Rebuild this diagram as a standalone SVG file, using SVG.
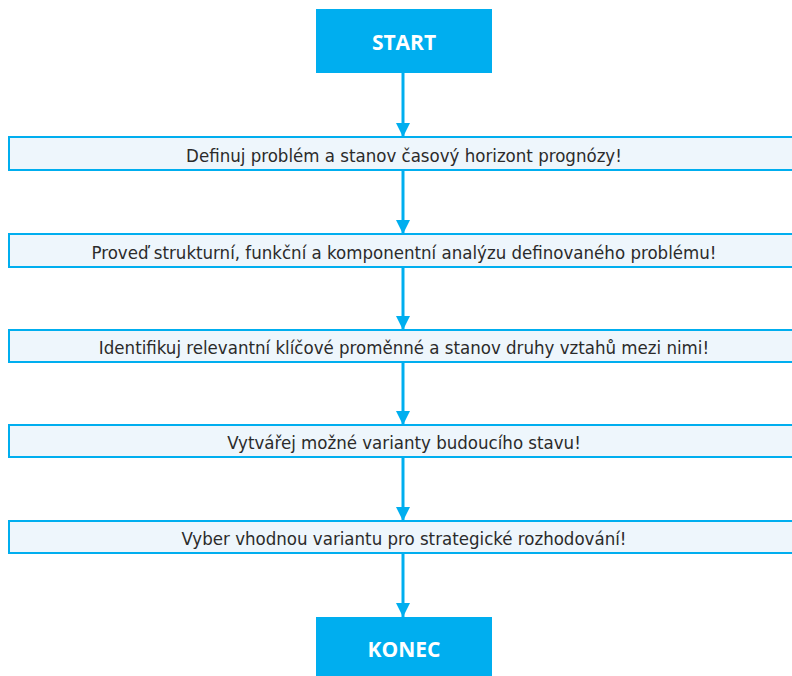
<svg xmlns="http://www.w3.org/2000/svg" width="792" height="676" viewBox="0 0 792 676">
<style>
.term{fill:#00aeef}
.tt{font-family:"Open Sans","DejaVu Sans",sans-serif;font-weight:bold;font-size:21px;fill:#fff;text-anchor:middle;dominant-baseline:central}
.step{fill:#eef6fc;stroke:#00aeef;stroke-width:2}
.st{font-family:"DejaVu Sans Condensed","Liberation Sans",sans-serif;font-size:18.5px;fill:#2b2b2b;text-anchor:middle;dominant-baseline:central}
.ln{stroke:#00aeef;stroke-width:3;fill:none}
</style>
<defs>
<marker id="ah" markerUnits="userSpaceOnUse" markerWidth="14" markerHeight="17" refX="14" refY="7" orient="auto">
<path d="M0,0 L14,7 L0,14 Z" fill="#00aeef"/>
</marker>
</defs>
<rect width="792" height="676" fill="#fff"/>
<g id="connectors">
<line class="ln" x1="403" y1="73" x2="403" y2="137" marker-end="url(#ah)"/>
<line class="ln" x1="403" y1="170" x2="403" y2="234" marker-end="url(#ah)"/>
<line class="ln" x1="403" y1="267" x2="403" y2="330" marker-end="url(#ah)"/>
<line class="ln" x1="403" y1="362" x2="403" y2="425" marker-end="url(#ah)"/>
<line class="ln" x1="403" y1="457" x2="403" y2="521" marker-end="url(#ah)"/>
<line class="ln" x1="403" y1="553" x2="403" y2="617" marker-end="url(#ah)"/>
</g>
<g id="start">
<rect class="term" x="316" y="9" width="176" height="64"/>
<text class="tt" x="404" y="42">START</text>
</g>
<g id="step1">
<rect class="step" x="9" y="137" width="795" height="33"/>
<text class="st" x="404" y="155">Definuj problém a stanov časový horizont prognózy!</text>
</g>
<g id="step2">
<rect class="step" x="9" y="234" width="795" height="33"/>
<text class="st" x="404" y="252">Proveď strukturní, funkční a komponentní analýzu definovaného problému!</text>
</g>
<g id="step3">
<rect class="step" x="9" y="330" width="795" height="32"/>
<text class="st" x="404" y="347">Identifikuj relevantní klíčové proměnné a stanov druhy vztahů mezi nimi!</text>
</g>
<g id="step4">
<rect class="step" x="9" y="425" width="795" height="32"/>
<text class="st" x="404" y="442">Vytvářej možné varianty budoucího stavu!</text>
</g>
<g id="step5">
<rect class="step" x="9" y="521" width="795" height="32"/>
<text class="st" x="404" y="538">Vyber vhodnou variantu pro strategické rozhodování!</text>
</g>
<g id="konec">
<rect class="term" x="316" y="617" width="176" height="60"/>
<text class="tt" x="404" y="649">KONEC</text>
</g>
</svg>
